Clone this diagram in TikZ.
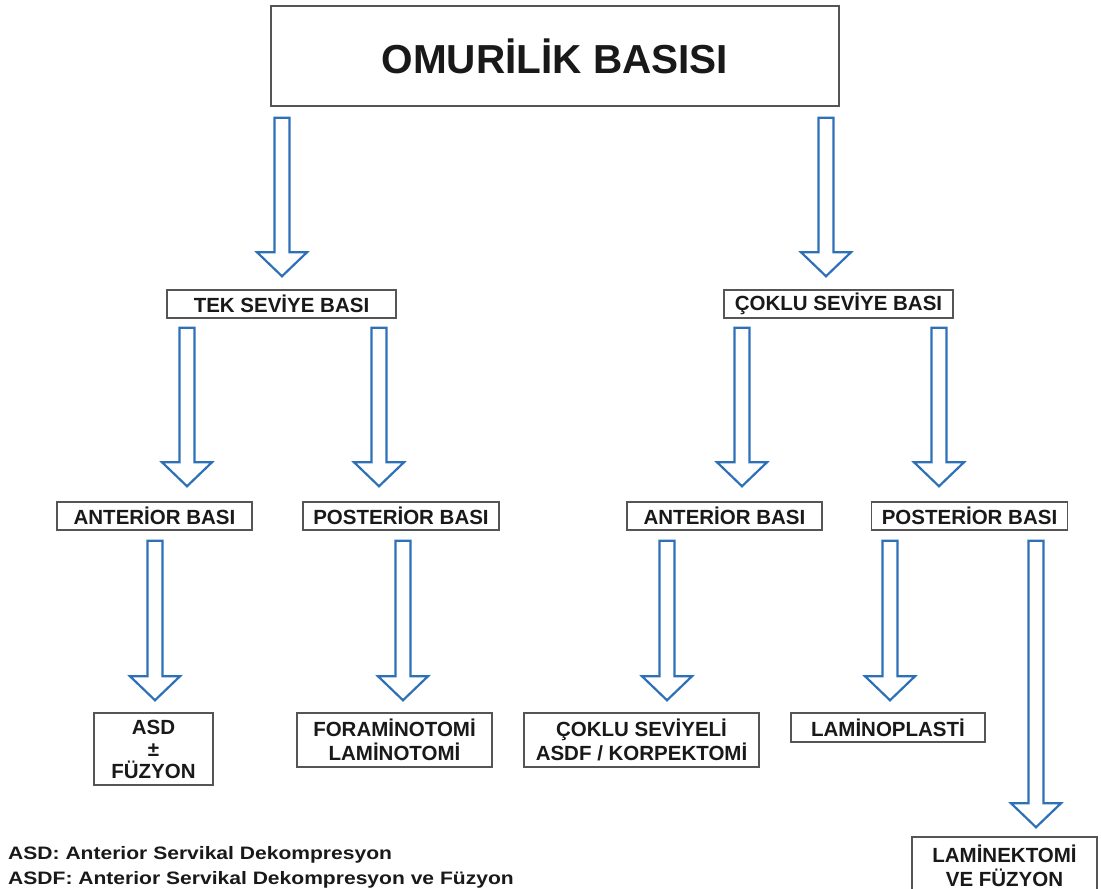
\documentclass[tikz,border=0pt]{standalone}
\usepackage{fontspec}
\usepackage{graphicx}
\setmainfont{Liberation Sans}
\usetikzlibrary{calc}
\definecolor{arrowblue}{RGB}{46,112,184}
\definecolor{boxgray}{RGB}{85,85,85}
\definecolor{txt}{RGB}{25,25,25}
\tikzset{
  box/.style={draw=boxgray,line width=1.5pt,fill=white,inner sep=0pt,text=txt,align=center,
    font=\fontsize{20.5}{24}\selectfont\bfseries},
  barr/.style={draw=arrowblue,line width=2.2pt,fill=white,line join=miter},
}
\newcommand\blockarrow[2]{%
  \draw[barr] let \p1=(#1), \p2=(#2) in
    (\x1-7.5pt,\y1) -- (\x1+7.5pt,\y1) -- (\x1+7.5pt,\y2+24pt) -- (\x1+25pt,\y2+24pt)
    -- (\x1,\y2) -- (\x1-25pt,\y2+24pt) -- (\x1-7.5pt,\y2+24pt) -- cycle;}
\begin{document}
\begin{tikzpicture}[x=1pt,y=-1pt]
\useasboundingbox (0,0) rectangle (1101,889);
\clip (0,0) rectangle (1101,889);
% boxes
\node[box,minimum width=568,minimum height=100,font=\fontsize{40.5}{48}\selectfont\bfseries] (top) at (555,56) {OMURİLİK BASISI};
\node[box,minimum width=229,minimum height=28] (tek) at (281.5,304) {TEK SEVİYE BASI};
\node[box,minimum width=229,minimum height=28] (cok) at (838.5,304) {ÇOKLU SEVİYE BASI};
\node[box,minimum width=195,minimum height=28] (ant1) at (154.5,516) {ANTERİOR BASI};
\node[box,minimum width=196,minimum height=28] (post1) at (401,516) {POSTERİOR BASI};
\node[box,minimum width=195,minimum height=28] (ant2) at (724.5,516) {ANTERİOR BASI};
\node[box,minimum width=196,minimum height=28] (post2) at (969.5,516) {POSTERİOR BASI};
\node[box,minimum width=119,minimum height=72,font=\fontsize{20.5}{22}\selectfont\bfseries] (asd) at (153.5,749) {ASD\\±\\FÜZYON};
\node[box,minimum width=195,minimum height=54] (fora) at (394.5,740) {FORAMİNOTOMİ\\LAMİNOTOMİ};
\node[box,minimum width=235,minimum height=54] (cokl) at (641.5,740) {ÇOKLU SEVİYELİ\\ASDF / KORPEKTOMİ};
\node[box,minimum width=194,minimum height=29] (lamp) at (888,727.5) {LAMİNOPLASTİ};
\node[box,minimum width=185,minimum height=58] (lamk) at (1004.5,866) {LAMİNEKTOMİ\\VE FÜZYON};
% arrow columns
\coordinate (c1) at (282,0);
\coordinate (c2) at (826,0);
\coordinate (c3) at (187,0);
\coordinate (c4) at (379,0);
\coordinate (c5) at (742,0);
\coordinate (c6) at (939,0);
\coordinate (c7) at (155,0);
\coordinate (c8) at (403,0);
\coordinate (c9) at (667,0);
\coordinate (c10) at (890,0);
\coordinate (c11) at (1036,0);
\blockarrow{$(c1 |- top.south)+(0,11)$}{$(c1 |- tek.north)+(0,-13)$}
\blockarrow{$(c2 |- top.south)+(0,11)$}{$(c2 |- cok.north)+(0,-13)$}
\blockarrow{$(c3 |- tek.south)+(0,9)$}{$(c3 |- ant1.north)+(0,-15)$}
\blockarrow{$(c4 |- tek.south)+(0,9)$}{$(c4 |- post1.north)+(0,-15)$}
\blockarrow{$(c5 |- cok.south)+(0,9)$}{$(c5 |- ant2.north)+(0,-15)$}
\blockarrow{$(c6 |- cok.south)+(0,9)$}{$(c6 |- post2.north)+(0,-15)$}
\blockarrow{$(c7 |- ant1.south)+(0,10)$}{$(c7 |- asd.north)+(0,-12)$}
\blockarrow{$(c8 |- post1.south)+(0,10)$}{$(c8 |- fora.north)+(0,-12)$}
\blockarrow{$(c9 |- ant2.south)+(0,10)$}{$(c9 |- cokl.north)+(0,-12)$}
\blockarrow{$(c10 |- post2.south)+(0,10)$}{$(c10 |- lamp.north)+(0,-12)$}
\blockarrow{$(c11 |- post2.south)+(0,10)$}{$(c11 |- lamk.north)+(0,-9)$}
% footnotes
\node[anchor=base west,inner sep=0pt,text=txt,font=\fontsize{18}{22}\selectfont\bfseries] (fn1) at (8,859) {\scalebox{1.17}[1]{ASD: Anterior Servikal Dekompresyon}};
\node[anchor=base west,inner sep=0pt,text=txt,font=\fontsize{18}{22}\selectfont\bfseries] (fn2) at (8,884) {\scalebox{1.17}[1]{ASDF: Anterior Servikal Dekompresyon ve Füzyon}};
\end{tikzpicture}
\end{document}
